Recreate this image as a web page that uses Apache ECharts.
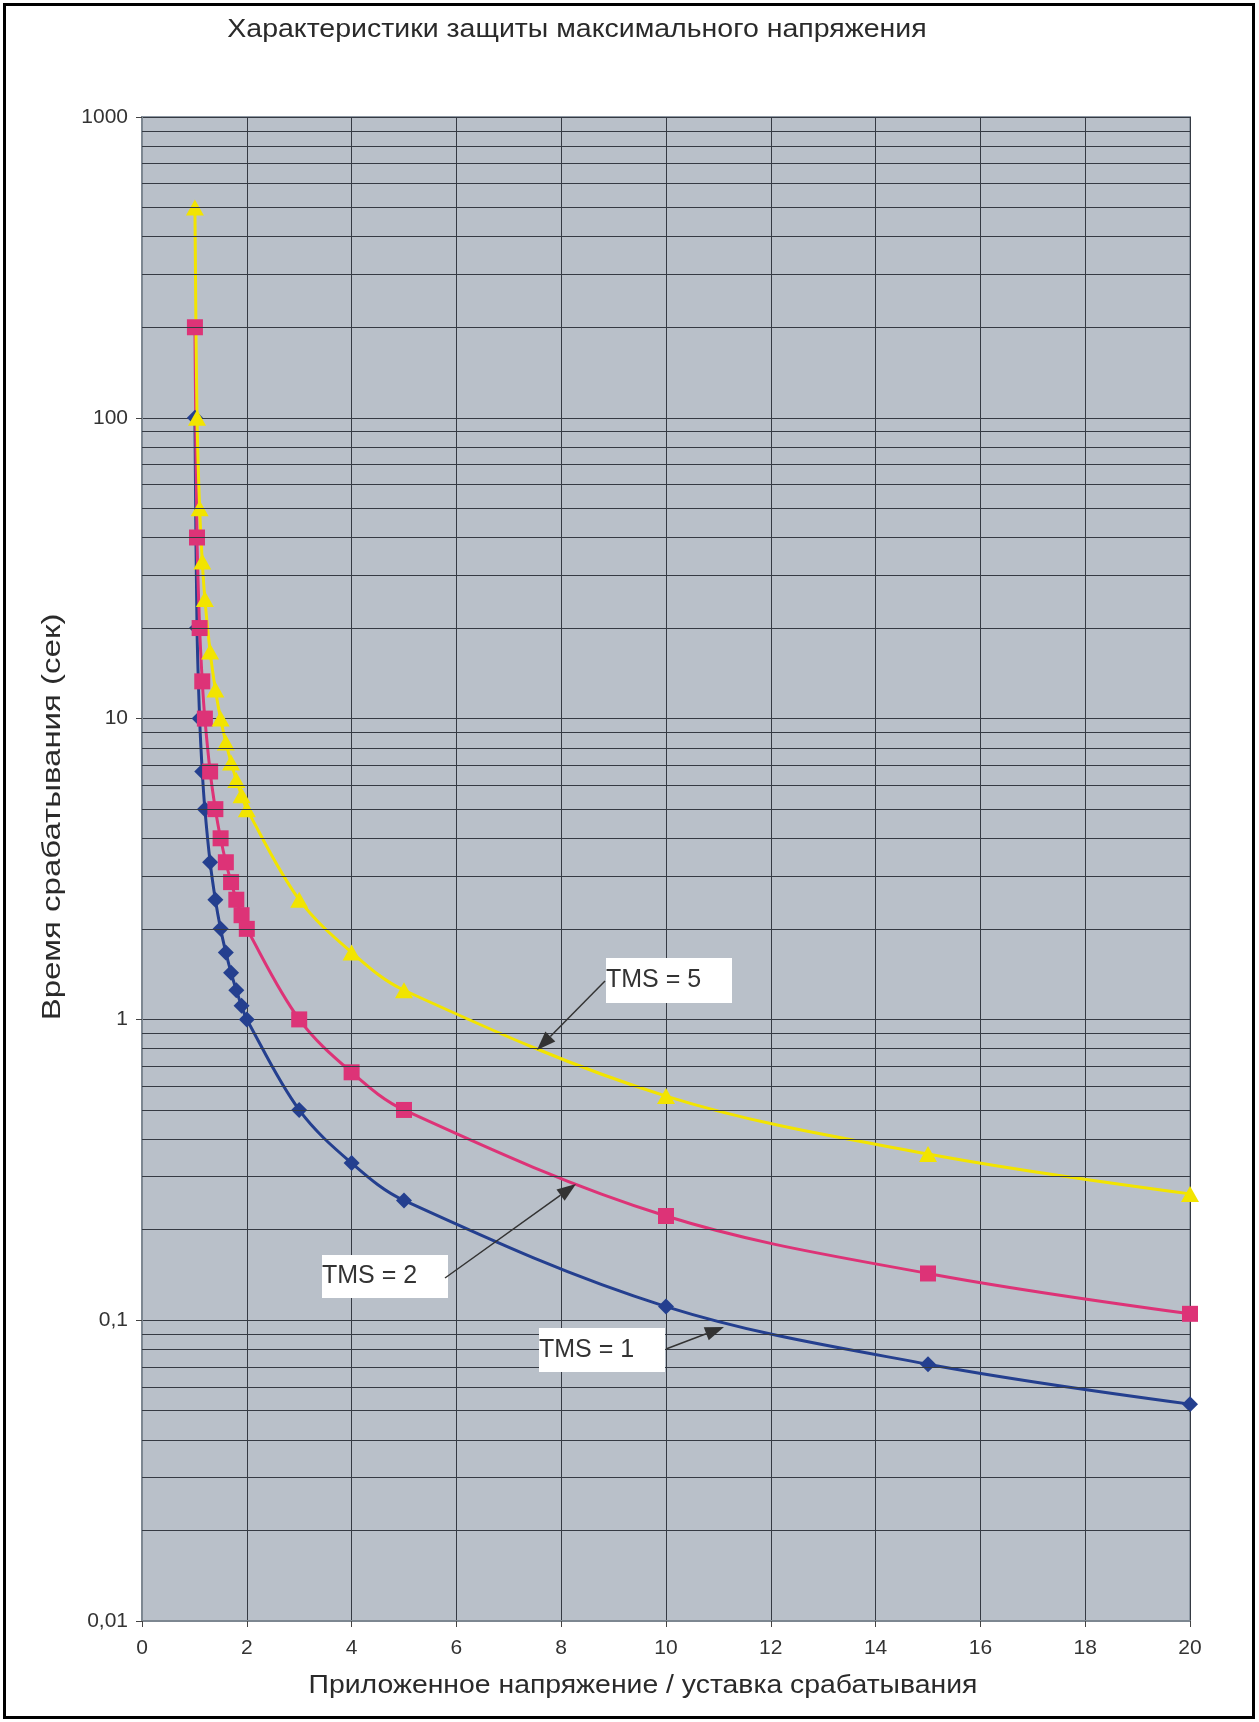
<!DOCTYPE html>
<html>
<head>
<meta charset="utf-8">
<title>Характеристики защиты максимального напряжения</title>
<script src="https://cdn.jsdelivr.net/npm/echarts@6.0.0/dist/echarts.min.js"></script>
<style>
  html, body { margin: 0; padding: 0; background: #ffffff; }
  #chart { width: 1259px; height: 1722px; }
</style>
</head>
<body>
<div id="chart"></div>
<script>
// applied voltage / pickup setting
const ratio = [1.01, 1.05, 1.1, 1.15, 1.2, 1.3, 1.4, 1.5, 1.6, 1.7, 1.8, 1.9, 2, 3, 4, 5, 10, 15, 20];
// operating time (s) per TMS
const tms1 = [100, 20, 10, 6.67, 5, 3.33, 2.5, 2, 1.67, 1.43, 1.25, 1.11, 1, 0.5, 0.333, 0.25, 0.111, 0.0714, 0.0526];
const tms2 = [200, 40, 20, 13.3, 10, 6.67, 5, 4, 3.33, 2.86, 2.5, 2.22, 2, 1, 0.667, 0.5, 0.222, 0.143, 0.105];
const tms5 = [500, 100, 50, 33.3, 25, 16.7, 12.5, 10, 8.33, 7.14, 6.25, 5.56, 5, 2.5, 1.67, 1.25, 0.556, 0.357, 0.263];

const seriesNames = ['TMS = 1', 'TMS = 2', 'TMS = 5'];
const seriesColors = ['#243f8f', '#dd3377', '#f2e400'];

// minor horizontal grid lines (2..9 in each decade)
const minorLines = [];
[0.01, 0.1, 1, 10, 100].forEach(d => {
  for (let k = 2; k <= 9; k++) minorLines.push(+(d * k).toPrecision(3));
});

const font = '"Liberation Sans", Arial, sans-serif';
const gridColor = '#353a43';

const chart = echarts.init(document.getElementById('chart'), null, { renderer: 'canvas' });

const pairs = ys => ratio.map((x, i) => [x, ys[i]]);

// little helper for arrow annotations: line + filled head
function arrow(x1, y1, x2, y2) {
  const ang = Math.atan2(y2 - y1, x2 - x1);
  const len = 19, half = 7;
  const bx = x2 - len * Math.cos(ang), by = y2 - len * Math.sin(ang);
  const px = -Math.sin(ang) * half, py = Math.cos(ang) * half;
  return [
    { type: 'line', silent: true, z: 100,
      shape: { x1: x1, y1: y1, x2: bx, y2: by },
      style: { stroke: '#333333', lineWidth: 1.5 } },
    { type: 'polygon', silent: true, z: 100,
      shape: { points: [[x2, y2], [bx + px, by + py], [bx - px, by - py]] },
      style: { fill: '#333333' } }
  ];
}

function labelBox(x, y, w, h, text) {
  return [
    { type: 'rect', silent: true, z: 100,
      shape: { x: x, y: y, width: w, height: h },
      style: { fill: '#ffffff' } },
    { type: 'text', silent: true, z: 101, x: x, y: y + h / 2,
      style: { text: text, font: '25px ' + font, fill: '#333333',
               textAlign: 'left', textVerticalAlign: 'middle' } }
  ];
}

const option = {
  animation: false,
  backgroundColor: '#ffffff',
  grid: {
    left: 142, right: 69, top: 117, bottom: 101,
    show: true,
    backgroundColor: '#b9c0c9',
    borderColor: '#8f99a4',
    borderWidth: 2
  },
  xAxis: {
    type: 'value',
    min: 0, max: 20, interval: 2,
    axisLine: { show: true, onZero: false, lineStyle: { color: '#7d8791', width: 2 } },
    axisTick: { show: true, length: 6, lineStyle: { color: '#444444' } },
    axisLabel: { margin: 17, fontSize: 21, fontFamily: font, color: '#333333' },
    splitLine: { show: true, lineStyle: { color: gridColor, width: 1 } }
  },
  yAxis: {
    type: 'log',
    logBase: 10,
    min: 0.01, max: 1000,
    axisLine: { show: true, lineStyle: { color: '#7d8791', width: 2 } },
    axisTick: { show: true, length: 6, lineStyle: { color: '#444444' } },
    axisLabel: {
      margin: 14, fontSize: 21, fontFamily: font, color: '#333333',
      formatter: v => String(v).replace('.', ',')
    },
    splitLine: { show: true, lineStyle: { color: gridColor, width: 1 } }
  },
  series: [
    {
      // carrier for the minor grid lines, kept below the curves
      type: 'line', name: 'grid', data: [], z: 1, silent: true,
      markLine: {
        silent: true, symbol: 'none', animation: false,
        label: { show: false },
        lineStyle: { color: gridColor, width: 1, type: 'solid' },
        emphasis: { disabled: true },
        data: minorLines.map(v => ({ yAxis: v }))
      }
    },
    {
      type: 'line', name: seriesNames[0], data: pairs(tms1),
      smooth: 0.35, symbol: 'diamond', symbolSize: 16,
      lineStyle: { color: seriesColors[0], width: 3 },
      itemStyle: { color: seriesColors[0] }
    },
    {
      type: 'line', name: seriesNames[1], data: pairs(tms2),
      smooth: 0.35, symbol: 'rect', symbolSize: 16,
      lineStyle: { color: seriesColors[1], width: 3 },
      itemStyle: { color: seriesColors[1] }
    },
    {
      type: 'line', name: seriesNames[2], data: pairs(tms5),
      smooth: 0.35, symbol: 'triangle', symbolSize: [18, 16],
      lineStyle: { color: seriesColors[2], width: 3 },
      itemStyle: { color: seriesColors[2] }
    }
  ],
  graphic: [
    // outer frame
    { type: 'rect', silent: true, z: 200,
      shape: { x: 4.5, y: 4.5, width: 1249, height: 1713 },
      style: { fill: 'none', stroke: '#000000', lineWidth: 3 } },
    // titles are a bit stretched horizontally in the original
    { type: 'text', silent: true, x: 577, y: 30, scaleX: 1.14,
      style: { text: 'Характеристики защиты максимального напряжения',
               font: '25px ' + font, fill: '#2a2a2a',
               textAlign: 'center', textVerticalAlign: 'middle' } },
    { type: 'text', silent: true, x: 643, y: 1686, scaleX: 1.135,
      style: { text: 'Приложенное напряжение / уставка срабатывания',
               font: '25px ' + font, fill: '#2a2a2a',
               textAlign: 'center', textVerticalAlign: 'middle' } },
    { type: 'text', silent: true, x: 53, y: 817, rotation: Math.PI / 2, scaleX: 1.32,
      style: { text: 'Время срабатывания (сек)',
               font: '25px ' + font, fill: '#2a2a2a',
               textAlign: 'center', textVerticalAlign: 'middle' } },
    ...labelBox(606, 958, 126, 45, 'TMS = 5'),
    ...arrow(605, 981, 537, 1050),
    ...labelBox(322, 1255, 126, 43, 'TMS = 2'),
    ...arrow(445, 1278, 576, 1184),
    ...labelBox(539, 1328, 126, 44, 'TMS = 1'),
    ...arrow(666, 1349, 724, 1327)
  ]
};

chart.setOption(option);
</script>
</body>
</html>
